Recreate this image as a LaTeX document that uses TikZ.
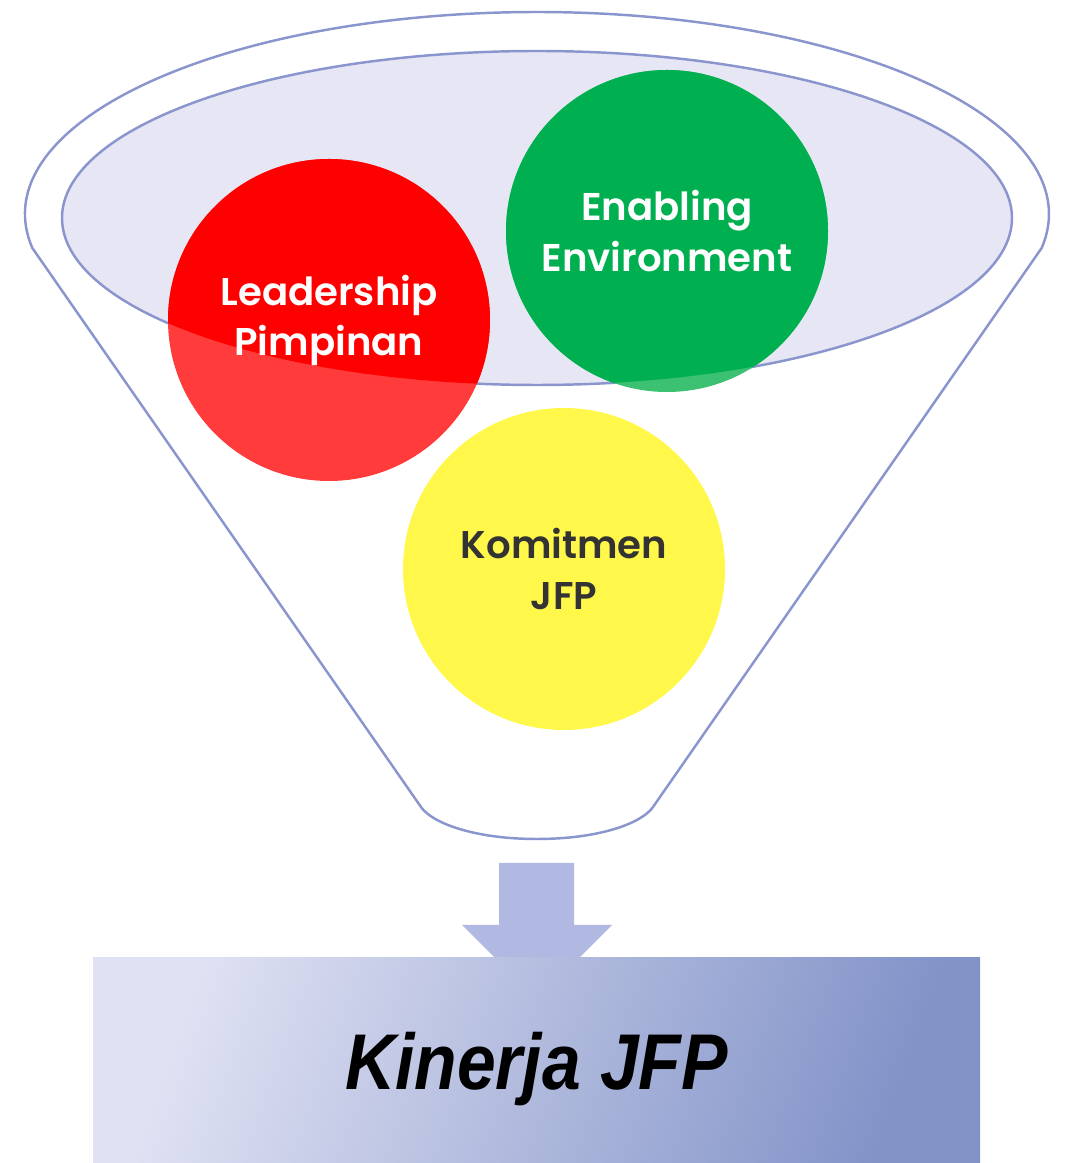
\documentclass[tikz,border=0pt]{standalone}
\usepackage{fontspec}
\setmainfont{Liberation Sans}
\newfontfamily\ballfont{Poppins}[BoldFont={Poppins SemiBold}]
\newfontfamily\boxfont{Liberation Sans Bold Italic}[FakeStretch=0.88]
\usetikzlibrary{positioning,calc}
\definecolor{rimline}{HTML}{8A95CE}
\definecolor{rimfill}{HTML}{E6E6F4}
\definecolor{leadred}{HTML}{FF0000}
\definecolor{leadredlt}{HTML}{FF3B3B}
\definecolor{envgreen}{HTML}{00B050}
\definecolor{envgreenlt}{HTML}{3CC072}
\definecolor{komyellow}{HTML}{FFF74A}
\definecolor{arrowfill}{HTML}{B1B9E3}
\definecolor{boxlight}{HTML}{E0E2F3}
\definecolor{boxdark}{HTML}{8293C8}
\definecolor{txtdark}{HTML}{333333}

\begin{document}
\begin{tikzpicture}

  % Styles
  \tikzset{
    ball/.style={circle, minimum size=6.44cm, inner sep=0pt, align=center,
      font=\ballfont\bfseries\fontsize{22}{28.5}\selectfont},
    kinbox/.style={rectangle, minimum width=17.74cm, minimum height=4.10cm,
      inner sep=0pt, text depth=0pt, left color=boxlight, right color=boxdark,
      shading angle=70, font=\boxfont\fontsize{45}{50}\selectfont}
  }

  \useasboundingbox (0,0) rectangle (21.46,23.26);

  % Funnel
  \coordinate (rim) at (10.74,18.98);
  \coordinate (mouth) at (10.74,18.90);
  \draw[rimline, line width=1.4pt]
    (rim) ++(189.7:10.24cm and 4.04cm)
    arc[start angle=189.7, end angle=-9.7, x radius=10.24cm, y radius=4.04cm]
    -- (13.06,7.12)
    .. controls (12.84,6.80) and (12.00,6.48) .. (10.74,6.48)
    .. controls (9.48,6.48) and (8.64,6.80) .. (8.42,7.12)
    -- cycle;
  \filldraw[fill=rimfill, draw=rimline, line width=1.4pt]
    (mouth) ellipse[x radius=9.50cm, y radius=3.34cm];

  % Circles
  \node[ball, fill=leadredlt, text=white,
    path picture={\fill[leadred] (mouth) ellipse[x radius=9.50cm, y radius=3.34cm];}]
    (lead) at (6.58,16.86) {Leadership\\Pimpinan};
  \node[ball, fill=envgreenlt, text=white,
    path picture={\fill[envgreen] (mouth) ellipse[x radius=9.50cm, y radius=3.34cm];}]
    (env) at (13.34,18.64) {Enabling\\Environment};
  \node[ball, fill=komyellow, text=txtdark]
    (komit) at (11.28,11.88) {Komitmen\\JFP};

  % Arrow
  \fill[arrowfill] (9.98,6.00) -- (11.48,6.00) -- (11.48,4.76) -- (12.24,4.76)
    -- (10.74,3.26) -- (9.24,4.76) -- (9.98,4.76) -- cycle;

  % Result
  \node[kinbox] (kinerja) at (10.73,2.05) {Kinerja JFP};

\end{tikzpicture}
\end{document}
